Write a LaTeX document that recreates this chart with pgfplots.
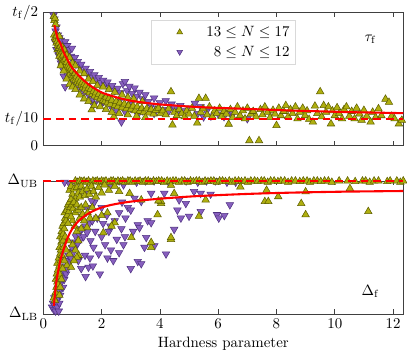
\documentclass[border=0pt]{standalone}
\usepackage{pgfplots}
\pgfplotsset{compat=1.18}
\definecolor{yel}{RGB}{175,175,15}
\definecolor{yeledge}{RGB}{95,95,0}
\definecolor{pur}{RGB}{135,95,190}
\definecolor{puredge}{RGB}{80,50,130}
\pgfplotsset{
  yelm/.style={only marks, mark=triangle*, mark size=2.9pt, mark options={fill=yel, draw=yeledge, line width=0.35pt}},
  purm/.style={only marks, mark=triangle*, mark size=2.9pt, mark options={fill=pur, draw=puredge, line width=0.35pt, rotate=180}},
  fitl/.style={red, line width=1.4pt, no marks, smooth},
  dashl/.style={red, line width=1.0pt, dash pattern=on 5.2pt off 3.3pt, no marks},
  common/.style={scale only axis, width=241pt, height=89pt, xmin=0, xmax=12.35,
    xtick={0,2,...,12}, tick align=inside, clip=false, clip marker paths=true, axis line style={black!75},
    major tick length=3pt, every tick/.style={black!75}, ytick style={draw=none}},
}
\begin{document}
\begin{tikzpicture}
\begin{axis}[common, name=top, ymin=0, ymax=0.5, xticklabels={},
  ytick={0,0.1,0.5}, yticklabels={$0$,$t_{\mathrm{f}}/10$,$t_{\mathrm{f}}/2$},
  legend style={at={(0.5,0.946)}, anchor=north, draw=black!15, legend cell align=right, inner xsep=2pt, inner ysep=2pt, row sep=1pt},
  legend image code/.code={\path (0cm,0cm) (1.15cm,0cm); \draw[#1] plot coordinates {(0.6cm,0cm)};},
  legend cell align=right]
\addlegendimage{yelm, mark size=2.2pt}\addlegendentry{$13\leq N\leq 17$}
\addlegendimage{purm, mark size=2.2pt}\addlegendentry{$8\leq N\leq 12$}
\addplot[purm, forget plot] coordinates {
(0.35,0.49)(0.38,0.475)(0.42,0.43)(0.45,0.445)(0.50,0.415)(0.55,0.405)(0.60,0.395)(0.65,0.38)(0.70,0.372)(0.75,0.39)
(0.78,0.36)(0.82,0.375)(0.85,0.348)(0.90,0.36)(0.95,0.335)(0.98,0.365)(1.02,0.32)(1.08,0.33)(1.12,0.305)(1.18,0.315)
(1.25,0.295)(1.30,0.305)(1.38,0.28)(1.45,0.29)(1.52,0.268)(1.60,0.278)(1.68,0.255)(1.75,0.265)(1.82,0.245)(1.90,0.255)
(1.98,0.235)(2.05,0.245)(2.12,0.228)(2.20,0.238)(2.28,0.218)(2.36,0.225)(2.45,0.205)(2.55,0.215)(2.65,0.198)(2.73,0.232)
(2.80,0.24)(2.88,0.205)(2.95,0.222)(3.05,0.195)(3.13,0.216)(3.20,0.185)(3.30,0.2)(3.40,0.175)(3.50,0.19)(0.75,0.22)
(0.70,0.26)(0.65,0.29)(0.80,0.27)(0.60,0.31)(1.00,0.24)(1.20,0.22)(1.40,0.2)(1.55,0.19)(1.77,0.159)(1.70,0.175)
(2.00,0.16)(2.30,0.15)(2.68,0.088)(2.50,0.135)(3.24,0.115)(3.00,0.155)(3.60,0.165)(3.70,0.15)(3.80,0.178)(3.90,0.14)
(4.00,0.16)(4.10,0.135)(4.20,0.168)(4.30,0.128)(4.40,0.155)(4.50,0.142)(4.60,0.126)(4.70,0.15)(4.80,0.13)(5.00,0.14)
(5.20,0.158)(5.30,0.12)(5.40,0.145)(5.50,0.107)(5.60,0.128)(5.75,0.11)(6.00,0.118)(6.20,0.108)(6.40,0.122)(6.50,0.118)
(7.00,0.10)(0.45,0.36)(0.52,0.34)(0.58,0.325)(0.40,0.39)(2.80,0.127)(2.06,0.165)(1.72,0.152)
(0.85,0.29)(1.05,0.26)(1.25,0.24)(1.50,0.22)(1.90,0.19)(2.20,0.18)(2.60,0.165)(3.00,0.14)(3.40,0.13)(3.80,0.12)
};
\addplot[yelm, forget plot] coordinates {
(0.36,0.485)(0.38,0.470)(0.40,0.478)(0.42,0.455)(0.37,0.415)(0.40,0.405)(0.43,0.398)(0.46,0.412)(0.45,0.385)(0.48,0.392)
(0.50,0.375)(0.52,0.382)(0.49,0.360)(0.54,0.365)(0.56,0.350)(0.58,0.372)(0.60,0.345)(0.55,0.335)(0.62,0.330)(0.64,0.352)
(0.66,0.325)(0.68,0.340)(0.70,0.318)(0.63,0.310)(0.72,0.305)(0.75,0.325)(0.77,0.298)(0.80,0.312)(0.82,0.290)(0.85,0.300)
(0.87,0.282)(0.90,0.295)(0.92,0.275)(0.95,0.288)(0.97,0.268)(1.00,0.280)(0.88,0.262)(0.93,0.255)(1.02,0.262)(1.05,0.250)
(1.08,0.270)(1.10,0.245)(1.13,0.258)(1.16,0.238)(1.20,0.250)(1.22,0.232)(1.26,0.242)(1.30,0.225)(1.33,0.236)(1.36,0.218)
(1.40,0.230)(1.43,0.212)(1.46,0.224)(1.50,0.205)(1.55,0.215)(1.58,0.198)(1.62,0.210)(1.66,0.134)(1.68,0.192)(1.72,0.204)
(1.76,0.186)(1.80,0.198)(1.85,0.180)(1.90,0.192)(1.95,0.175)(2.00,0.186)(2.05,0.170)(2.11,0.165)(2.15,0.182)(2.20,0.160)
(2.25,0.176)(2.30,0.155)(2.35,0.170)(2.42,0.108)(2.45,0.150)(2.50,0.165)(2.55,0.145)(2.62,0.160)(2.70,0.142)(2.78,0.156)
(2.85,0.138)(2.92,0.150)(3.00,0.135)(3.08,0.148)(3.15,0.130)(3.22,0.145)(3.30,0.128)(3.38,0.140)(3.45,0.125)(3.55,0.138)
(3.62,0.122)(3.70,0.135)(3.78,0.118)(3.86,0.132)(3.95,0.140)(4.02,0.120)(4.10,0.130)(4.20,0.115)(4.30,0.138)(4.38,0.202)
(4.43,0.077)(4.50,0.125)(4.58,0.112)(4.66,0.135)(4.75,0.120)(4.85,0.108)(4.92,0.130)(5.00,0.118)(5.10,0.140)(5.18,0.110)
(5.28,0.084)(5.34,0.177)(5.40,0.125)(5.48,0.138)(5.57,0.177)(5.62,0.115)(5.70,0.145)(5.80,0.108)(5.88,0.130)(5.95,0.120)
(6.05,0.140)(6.12,0.110)(6.20,0.128)(6.28,0.118)(6.36,0.080)(6.42,0.135)(6.50,0.105)(6.58,0.125)(6.66,0.145)(6.75,0.112)
(6.85,0.130)(6.92,0.100)(7.00,0.140)(7.07,0.018)(7.12,0.118)(7.20,0.128)(7.30,0.108)(7.40,0.018)(7.45,0.135)(7.52,0.115)
(7.60,0.145)(7.70,0.125)(7.78,0.105)(7.88,0.132)(7.95,0.118)(8.00,0.075)(8.08,0.140)(8.15,0.112)(8.25,0.128)(8.32,0.150)
(8.40,0.108)(8.48,0.135)(8.55,0.120)(8.65,0.145)(8.72,0.100)(8.80,0.125)(8.90,0.140)(8.98,0.112)(9.05,0.130)(9.12,0.098)
(9.25,0.088)(9.32,0.148)(9.40,0.120)(9.50,0.202)(9.55,0.108)(9.62,0.150)(9.70,0.125)(9.78,0.145)(9.87,0.081)(9.92,0.130)
(10.00,0.112)(10.08,0.142)(10.15,0.120)(10.25,0.100)(10.32,0.135)(10.40,0.145)(10.50,0.110)(10.58,0.128)(10.68,0.100)(10.75,0.140)
(10.85,0.118)(10.92,0.095)(11.00,0.132)(11.10,0.110)(11.23,0.088)(11.30,0.125)(11.40,0.105)(11.50,0.138)(11.60,0.112)(11.74,0.174)
(11.86,0.162)(11.95,0.110)(12.05,0.100)(12.20,0.081)(12.30,0.095)
(0.55,0.41)(0.65,0.37)(0.72,0.36)(0.80,0.34)(0.90,0.33)(1.00,0.31)(1.10,0.30)(1.25,0.28)(1.40,0.27)(1.55,0.25)
(1.70,0.24)(1.85,0.225)(2.05,0.22)(2.25,0.21)(2.45,0.20)(2.70,0.19)(2.90,0.18)(3.10,0.175)(3.40,0.165)
(0.60,0.30)(0.70,0.28)(0.80,0.25)(0.90,0.23)(1.00,0.22)(1.10,0.21)(1.25,0.19)(1.40,0.175)(1.55,0.165)(1.75,0.15)
(1.95,0.145)(2.15,0.135)(2.35,0.125)(2.60,0.12)(2.90,0.115)(3.20,0.11)(3.50,0.105)
};
\addplot[dashl, forget plot] coordinates {(0,0.1)(12.35,0.1)};
\addplot[fitl, forget plot] coordinates {
(0.38,0.452)(0.45,0.42)(0.5,0.40)(0.58,0.385)(0.7,0.35)(0.87,0.314)(1.0,0.29)(1.21,0.264)(1.4,0.243)(1.66,0.221)
(2.0,0.199)(2.23,0.19)(2.6,0.178)(3.0,0.168)(3.5,0.16)(4.0,0.154)(4.5,0.150)(5.0,0.146)(5.75,0.142)(6.5,0.139)
(7.5,0.135)(8.5,0.131)(9.5,0.128)(10.5,0.125)(11.5,0.123)(12.35,0.121)};
\node at (axis cs:11.23,0.40) {$\tau_{\mathrm{f}}$};
\end{axis}
\begin{axis}[common, at={(top.south west)}, yshift=-23.8pt, anchor=north west,
  ymin=0, ymax=1, ytick={0,1}, yticklabels={$\Delta_{\mathrm{LB}}$,$\Delta_{\mathrm{UB}}$},
  xlabel={Hardness parameter}, xlabel style={yshift=1pt}]
\addplot[purm] coordinates {
(0.30,0.05)(0.33,0.08)(0.36,0.03)(0.40,0.06)(0.42,0.02)(0.45,0.09)(0.48,0.05)(0.53,0.02)(0.50,0.12)(0.55,0.08)
(0.58,0.14)(0.38,0.12)(0.60,0.18)(0.52,0.17)(0.62,0.24)(0.57,0.22)(0.65,0.28)(0.68,0.20)(0.70,0.32)(0.72,0.26)
(0.75,0.36)(0.78,0.30)(0.80,0.40)(0.83,0.34)(0.86,0.44)(0.88,0.38)(0.92,0.47)(0.95,0.42)(0.98,0.50)(1.02,0.46)
(1.05,0.54)(1.10,0.50)(1.12,0.58)(1.18,0.53)(1.22,0.60)(1.28,0.56)(1.32,0.64)(1.38,0.58)(1.43,0.44)(1.45,0.66)
(1.50,0.61)(1.55,0.35)(1.58,0.68)(1.62,0.55)(1.68,0.70)(1.72,0.50)(1.78,0.62)(1.85,0.72)(1.90,0.45)(1.94,0.30)
(2.00,0.58)(2.05,0.68)(2.12,0.52)(2.18,0.74)(2.25,0.62)(2.32,0.48)(2.40,0.40)(2.45,0.70)(2.52,0.56)(2.60,0.76)
(2.68,0.64)(2.75,0.52)(2.82,0.72)(2.90,0.80)(3.00,0.34)(3.08,0.62)(3.13,0.87)(3.24,0.394)(3.24,0.67)(3.30,0.648)
(3.36,0.845)(3.36,0.377)(3.47,0.50)(3.53,0.574)(3.58,0.70)(3.70,0.685)(3.70,0.906)(3.81,0.512)(4.15,0.906)(4.21,0.45)
(4.49,0.635)(4.60,0.78)(4.66,0.857)(4.72,0.72)(4.89,0.83)(5.00,0.734)(5.17,0.92)(5.40,0.906)(5.40,0.77)(5.74,0.90)
(5.96,0.746)(6.02,0.72)(6.21,0.739)(6.40,0.82)(1.20,0.40)(1.30,0.34)(1.45,0.28)(1.60,0.42)(1.70,0.36)(2.20,0.42)
(2.60,0.46)(2.30,0.66)(2.00,0.80)(1.75,0.84)(1.50,0.80)(2.70,0.84)(3.00,0.78)(2.80,0.58)(0.73,0.99)(2.10,0.99)
(2.60,1.0)(3.20,0.99)(3.50,1.0)(3.80,1.0)(4.30,0.99)(4.90,1.0)(5.30,0.99)(5.60,1.0)(5.90,1.0)(6.30,0.99)
(6.60,0.99)(2.3,0.97)(2.75,0.97)(0.92,0.97)(1.43,0.92)(1.66,0.85)
};
\addplot[yelm] coordinates {
(1.10,1.0)(1.18,0.99)(1.25,1.0)(1.32,0.995)(1.40,1.0)(1.48,0.99)(1.55,1.0)(1.62,0.985)(1.70,1.0)(1.78,0.995)
(1.85,1.0)(1.92,0.99)(2.00,1.0)(2.08,0.995)(2.15,1.0)(2.25,0.99)(2.32,1.0)(2.40,1.0)(2.48,0.99)(2.56,1.0)
(2.65,0.995)(2.72,1.0)(2.80,0.99)(2.90,1.0)(2.98,1.0)(3.06,0.99)(3.15,1.0)(3.25,0.995)(3.32,1.0)(3.42,0.99)
(3.50,1.0)(3.60,1.0)(3.68,0.99)(3.78,1.0)(3.88,0.995)(3.96,1.0)(4.06,1.0)(4.15,0.99)(4.25,1.0)(4.35,0.995)
(4.45,1.0)(4.55,1.0)(4.65,0.99)(4.75,1.0)(4.85,1.0)(4.95,0.99)(5.05,1.0)(5.15,0.995)(5.25,1.0)(5.35,1.0)
(5.45,0.99)(5.55,1.0)(5.65,0.995)(5.75,1.0)(5.85,1.0)(5.95,0.99)(6.05,1.0)(6.15,1.0)(6.25,0.995)(6.38,1.0)
(6.48,0.99)(6.58,1.0)(6.70,1.0)(6.80,0.995)(6.92,1.0)(7.02,0.99)(7.12,1.0)(7.25,1.0)(7.35,0.995)(7.48,1.0)
(7.58,1.0)(7.70,0.99)(7.80,1.0)(7.92,1.0)(8.05,0.995)(8.15,1.0)(8.28,1.0)(8.40,0.99)(8.52,1.0)(8.65,1.0)
(8.80,0.995)(8.92,1.0)(9.05,1.0)(9.15,0.99)(9.28,1.0)(9.40,1.0)(9.52,0.995)(9.65,1.0)(9.78,1.0)(9.90,0.99)
(10.15,1.0)(10.44,1.0)(10.70,0.995)(10.95,1.0)(11.06,1.0)(11.20,0.99)(11.35,1.0)(11.50,1.0)(11.80,0.995)(11.90,1.0)
(12.13,1.0)(12.25,0.99)(12.35,1.0)
(0.90,0.93)(0.95,0.96)(1.00,0.90)(1.05,0.94)(1.10,0.87)(1.15,0.95)(1.20,0.91)(1.25,0.88)(1.30,0.96)(1.35,0.92)
(1.42,0.89)(1.50,0.94)(1.58,0.90)(1.65,0.96)(1.72,0.92)(1.80,0.88)(1.90,0.95)(2.00,0.91)(2.10,0.97)(2.25,0.93)
(2.45,0.96)(2.60,0.92)(2.96,0.906)(3.36,0.857)(4.04,0.83)(4.04,0.845)(3.95,0.85)(4.38,0.967)(4.49,0.906)(5.57,0.857)
(6.76,0.955)(7.66,0.93)(7.60,0.845)(7.72,0.845)(8.06,0.882)(8.85,0.83)(9.00,0.918)(9.00,0.746)(10.52,0.943)(11.15,0.77)
(5.34,0.734)(4.38,0.56)(3.70,0.50)(3.92,0.746)(3.02,0.574)(2.45,0.685)(2.06,0.61)(2.34,0.66)(1.21,0.44)(3.70,0.537)
(4.38,0.574)
(0.36,0.12)(0.40,0.10)(0.42,0.16)(0.45,0.20)(0.43,0.26)(0.48,0.24)(0.46,0.30)(0.50,0.33)(0.52,0.28)(0.48,0.38)
(0.55,0.36)(0.53,0.42)(0.58,0.45)(0.56,0.50)(0.60,0.48)(0.62,0.54)(0.58,0.58)(0.65,0.57)(0.63,0.62)(0.68,0.60)
(0.66,0.66)(0.70,0.68)(0.72,0.64)(0.75,0.72)(0.73,0.76)(0.78,0.70)(0.80,0.78)(0.82,0.74)(0.85,0.82)(0.88,0.77)
(0.90,0.84)(0.92,0.80)(0.95,0.86)(0.98,0.82)(1.02,0.79)(1.05,0.84)(1.10,0.76)(1.15,0.82)(1.20,0.78)(1.25,0.72)
(1.30,0.80)(1.35,0.75)(1.40,0.70)(1.45,0.82)(1.52,0.76)(1.60,0.72)(1.68,0.80)(0.60,0.40)(0.64,0.44)(0.70,0.50)
(0.68,0.55)(0.75,0.58)(0.55,0.30)(0.50,0.22)(1.00,0.70)(1.08,0.66)(1.15,0.62)(0.85,0.68)(0.95,0.73)(1.50,0.65)
(1.30,0.64)(1.80,0.72)(2.20,0.76)(2.00,0.74)(1.15,0.426)(0.81,0.365)
(0.90,0.45)(1.00,0.52)(1.10,0.48)(0.95,0.35)(1.05,0.40)(1.20,0.55)(0.85,0.55)(0.78,0.48)(0.72,0.40)(0.66,0.34)
(0.62,0.26)(0.58,0.20)(0.55,0.14)
};
\addplot[dashl] coordinates {(0,1)(12.35,1)};
\addplot[fitl] coordinates {
(0.36,0.06)(0.4,0.15)(0.44,0.23)(0.5,0.31)(0.58,0.40)(0.66,0.46)(0.75,0.52)(0.85,0.58)(0.98,0.635)(1.15,0.685)
(1.32,0.72)(1.55,0.755)(1.77,0.78)(2.0,0.80)(2.34,0.82)(2.8,0.838)(3.3,0.852)(4.0,0.866)(5.0,0.882)(6.0,0.893)
(7.0,0.902)(8.0,0.909)(9.0,0.914)(10.0,0.918)(11.0,0.921)(12.35,0.924)};
\node at (axis cs:11.23,0.168) {$\Delta_{\mathrm{f}}$};
\end{axis}
\end{tikzpicture}
\end{document}
